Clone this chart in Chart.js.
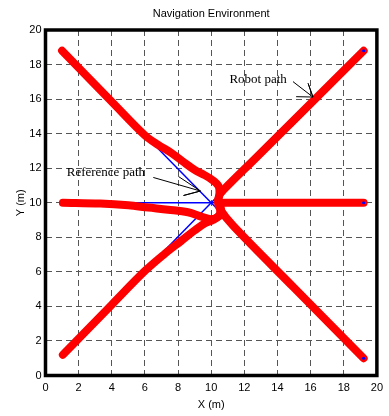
<!DOCTYPE html>
<html>
<head>
<meta charset="utf-8">
<script src="https://cdn.jsdelivr.net/npm/chart.js@4.4.0/dist/chart.umd.min.js"></script>
<style>
  html, body { margin: 0; padding: 0; background: #fff; }
  canvas { display: block; }
</style>
</head>
<body>
<canvas id="nav" width="389" height="416"></canvas>
<script>
// Axis ticks (metres)
const axisTicks = [0, 2, 4, 6, 8, 10, 12, 14, 16, 18, 20];

// Robot 1: top-left start, bottom-right goal
const robotA_x = [1.0, 4.0, 6.0, 6.8, 7.6, 8.3, 9.0, 9.6, 10.1, 10.45, 10.5, 10.4, 10.55, 11.34, 15.0, 19.2];
const robotA_y = [18.8, 15.85, 13.9, 13.35, 12.88, 12.38, 11.9, 11.6, 11.3, 10.95, 10.5, 10.05, 9.6, 8.65, 5.08, 1.0];

// Robot 2: bottom-left start, top-right goal
const robotB_x = [1.05, 4.0, 6.0, 7.2, 8.2, 9.0, 9.6, 10.1, 10.5, 10.55, 10.45, 10.5, 10.75, 12.7, 19.2];
const robotB_y = [1.2, 4.1, 6.05, 7.05, 7.8, 8.4, 8.8, 9.0, 9.3, 9.7, 10.1, 10.45, 10.75, 12.6, 18.8];

// Robot 3: left start, right goal
const robotC_x = [1.05, 3.3, 5.0, 6.2, 7.4, 8.6, 9.4, 10.0, 10.45, 10.6, 10.55, 11.0, 19.2];
const robotC_y = [10.0, 9.95, 9.85, 9.72, 9.6, 9.45, 9.2, 9.05, 9.2, 9.55, 9.95, 10.0, 10.0];

// Reference paths through the common waypoint
const refA_x = [1.0, 10.0, 19.2];
const refA_y = [18.8, 10.0, 1.0];
const refB_x = [1.05, 10.0, 19.2];
const refB_y = [1.2, 10.0, 18.8];
const refC_x = [1.05, 10.0, 19.2];
const refC_y = [10.0, 10.0, 10.0];

// Goal positions
const goal_x = [19.2, 19.2, 19.2];
const goal_y = [18.8, 10.0, 1.0];

// Callout arrows: tail, tip, head, tip, head
const refArrow_x = [6.52, 9.35, 8.33, 9.35, 8.04];
const refArrow_y = [11.46, 10.68, 10.42, 10.68, 11.51];
const robotArrow_x = [14.95, 16.14, 15.85, 16.14, 15.15];
const robotArrow_y = [17.0, 16.12, 16.91, 16.12, 16.14];

// Callout texts (left edge, baseline)
const noteText = ['Reference path', 'Robot path'];
const note_x = [1.28, 11.1];
const note_y = [11.57, 16.91];

const SANS = "'Liberation Sans', Arial, sans-serif";
const SERIF = "'Liberation Serif', 'Times New Roman', serif";

const pts = (xs, ys) => xs.map((x, i) => ({ x: x, y: ys[i] }));

function pathSet(xs, ys, color, width, order, tension) {
  return {
    data: pts(xs, ys),
    showLine: true,
    borderColor: color,
    backgroundColor: color,
    borderWidth: width,
    borderCapStyle: 'round',
    borderJoinStyle: 'round',
    pointRadius: 0,
    tension: tension,
    order: order
  };
}

const framePlugin = {
  id: 'frame',
  afterDraw(chart) {
    const { ctx, chartArea: a } = chart;
    ctx.save();
    ctx.lineWidth = 3.5;
    ctx.strokeStyle = '#000';
    ctx.strokeRect(a.left, a.top, a.right - a.left, a.bottom - a.top);
    ctx.restore();
  }
};

const notesPlugin = {
  id: 'notes',
  afterDatasetsDraw(chart) {
    const { ctx, scales } = chart;
    ctx.save();
    ctx.font = '13px ' + SERIF;
    ctx.fillStyle = '#000';
    ctx.textAlign = 'left';
    ctx.textBaseline = 'alphabetic';
    noteText.forEach((t, i) => {
      ctx.fillText(t, scales.x.getPixelForValue(note_x[i]), scales.y.getPixelForValue(note_y[i]));
    });
    ctx.restore();
  }
};

function axisOptions(position, titleText, titlePadding, fit) {
  return {
    type: 'linear',
    position: position,
    min: 0,
    max: 20,
    afterBuildTicks(scale) { scale.ticks = axisTicks.map(v => ({ value: v })); },
    afterFit: fit,
    grid: { color: '#555', lineWidth: 1, drawTicks: false },
    border: { display: false, dash: [6, 4] },
    ticks: { color: '#000', font: { family: SANS, size: 11 }, padding: position === 'bottom' ? 6 : 4 },
    title: { display: true, text: titleText, color: '#000', font: { family: SANS, size: 11 }, padding: titlePadding }
  };
}

new Chart(document.getElementById('nav'), {
  type: 'scatter',
  data: {
    datasets: [
      pathSet(refArrow_x, refArrow_y, '#000', 1, 0, 0),
      pathSet(robotArrow_x, robotArrow_y, '#000', 1, 0, 0),
      {
        data: pts(goal_x, goal_y),
        showLine: false,
        pointRadius: 1.6,
        pointBorderWidth: 0,
        backgroundColor: '#0000ff',
        borderColor: '#0000ff',
        order: 1
      },
      pathSet(robotA_x, robotA_y, '#ff0000', 8, 2, 0.35),
      pathSet(robotB_x, robotB_y, '#ff0000', 8, 2, 0.35),
      pathSet(robotC_x, robotC_y, '#ff0000', 8, 2, 0.35),
      pathSet(refA_x, refA_y, '#0000ff', 1.5, 3, 0),
      pathSet(refB_x, refB_y, '#0000ff', 1.5, 3, 0),
      pathSet(refC_x, refC_y, '#0000ff', 1.5, 3, 0)
    ]
  },
  options: {
    responsive: false,
    animation: false,
    devicePixelRatio: 1,
    layout: { padding: { top: 0, left: 0, right: 7.5, bottom: 0 } },
    plugins: {
      legend: { display: false },
      tooltip: { enabled: false },
      title: {
        display: true,
        text: 'Navigation Environment',
        fullSize: false,
        color: '#000',
        font: { family: SANS, size: 11, weight: 'normal' },
        padding: { top: 7.5, bottom: 9.3 }
      }
    },
    scales: {
      x: axisOptions('bottom', 'X (m)', { top: 0, bottom: 4.5 }, s => { s.height = 40.5; }),
      y: axisOptions('left', 'Y (m)', { top: 14.5, bottom: 0 }, s => { s.width = 45.5; })
    }
  },
  plugins: [framePlugin, notesPlugin]
});
</script>
</body>
</html>
